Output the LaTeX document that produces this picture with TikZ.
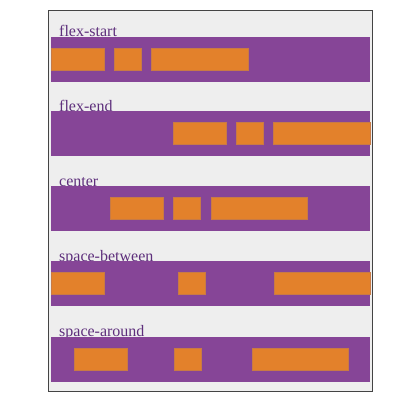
\documentclass[tikz,border=0pt]{standalone}
\usepackage{fontspec}
\setmainfont{Liberation Serif}
\definecolor{pbar}{HTML}{864597}
\definecolor{obox}{HTML}{E3812B}
\definecolor{oedge}{HTML}{C87A45}
\definecolor{ptext}{HTML}{5E2F7C}
\definecolor{bg}{HTML}{EEEEEE}
\definecolor{frame}{HTML}{444444}
\begin{document}
\begin{tikzpicture}[x=1pt,y=-1pt,
  barbox/.style={fill=pbar,draw=none},
  itembox/.style={fill=obox,draw=oedge,line width=0.6pt},
  lbl/.style={anchor=base west,inner sep=0pt,text=ptext,font=\fontsize{16}{16}\selectfont}]
\useasboundingbox (0,0) rectangle (404,402);
\draw[fill=bg,draw=frame,line width=1pt] (48.3,10.3) rectangle (372.7,391.7);
% labels
\node[lbl] (l1) at (59,36.7) {flex-start};
\node[lbl] (l2) at (59,111) {flex-end};
\node[lbl] (l3) at (59,186) {center};
\node[lbl] (l4) at (59,261) {space-between};
\node[lbl] (l5) at (59,336.7) {space-around};
% bars
\fill[barbox] (51,36.7) rectangle (370,81.7);
\fill[barbox] (51,111) rectangle (370,156);
\fill[barbox] (51,186) rectangle (370,231);
\fill[barbox] (51,261) rectangle (370,306);
\fill[barbox] (51,336.7) rectangle (370,381.7);
% flex-start
\draw[itembox] (51,48.3) rectangle (104,70.7);
\draw[itembox] (114,48.3) rectangle (141,70.7);
\draw[itembox] (151.7,48.3) rectangle (248,70.7);
% flex-end
\draw[itembox] (173.3,122.5) rectangle (226.3,144.7);
\draw[itembox] (236.3,122.5) rectangle (263.3,144.7);
\draw[itembox] (273.7,122.5) rectangle (370,144.7);
% center
\draw[itembox] (110.3,197.5) rectangle (163.3,219.7);
\draw[itembox] (173.3,197.5) rectangle (200.3,219.7);
\draw[itembox] (211,197.5) rectangle (307.3,219.7);
% space-between
\draw[itembox] (51,272.5) rectangle (104,294.7);
\draw[itembox] (178,272.5) rectangle (205,294.7);
\draw[itembox] (274,272.5) rectangle (370,294.7);
% space-around
\draw[itembox] (74,348.3) rectangle (127,370.7);
\draw[itembox] (174.3,348.3) rectangle (201.3,370.7);
\draw[itembox] (252,348.3) rectangle (348.3,370.7);
\end{tikzpicture}
\end{document}
